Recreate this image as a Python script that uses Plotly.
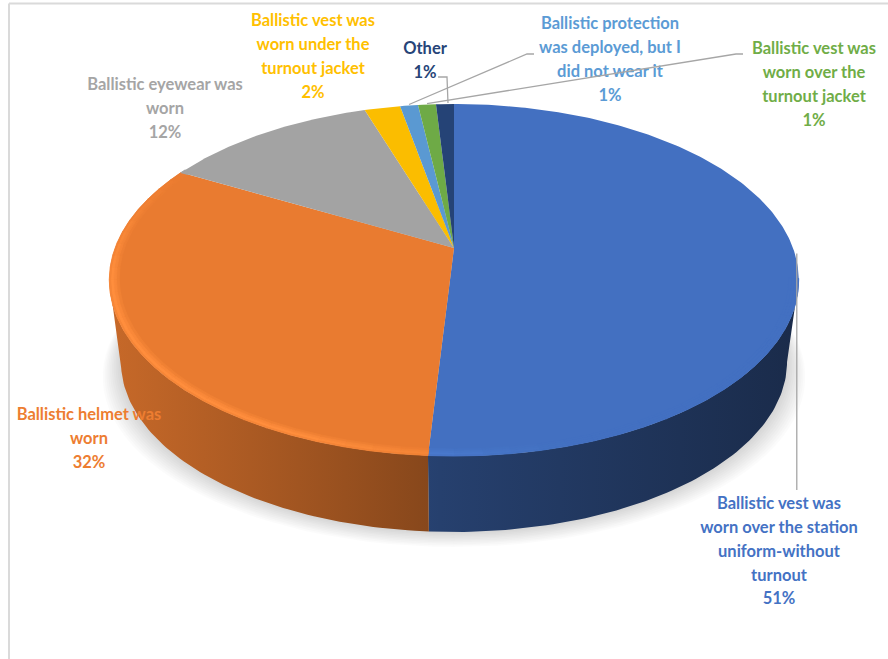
import math
import plotly.graph_objects as go

# Survey shares, in pie order (clockwise from twelve o'clock)
categories = [
    "Ballistic vest was worn over the station uniform-without turnout",
    "Ballistic helmet was worn",
    "Ballistic eyewear was worn",
    "Ballistic vest was worn under the turnout jacket",
    "Ballistic protection was deployed, but I did not wear it",
    "Ballistic vest was worn over the turnout jacket",
    "Other",
]
values = [51, 32, 12, 2, 1, 1, 1]
colors = ["#4472C4", "#ED7D31", "#A5A5A5", "#FFC000", "#5B9BD5", "#70AD47", "#264478"]
label_lines = [
    ["Ballistic vest was", "worn over the station", "uniform-without", "turnout"],
    ["Ballistic helmet was", "worn"],
    ["Ballistic eyewear was", "worn"],
    ["Ballistic vest was", "worn under the", "turnout jacket"],
    ["Ballistic protection", "was deployed, but I", "did not wear it"],
    ["Ballistic vest was", "worn over the", "turnout jacket"],
    ["Other"],
]
# Label block centre x and first-line y, one pair per category
label_x = [779, 89, 165, 313, 610, 814, 425]
label_y = [505, 416, 86, 22, 25, 50, 50]
LINE_STEP = 23.8
FONT_SIZE = 16.5

# Perspective disc: screen centre, radii and foreshortening
CX, APEX_Y = 454.0, 248.0
RX, RY, PERSP = 339.0, 170.2, 0.182
BASE_APEX_Y, BASE_SCALE = 331.0, 0.966


def rim(theta_deg, r=1.0, apex_y=APEX_Y, scale=1.0):
    t = math.radians(theta_deg)
    u, v = r * math.sin(t), r * math.cos(t)
    w = 1 + PERSP * v
    return CX + scale * RX * u / w, apex_y - scale * RY * v / w


def arc(a0, a1, r=1.0, apex_y=APEX_Y, scale=1.0, step=1.0):
    n = max(2, int(abs(a1 - a0) / step) + 1)
    return [rim(a0 + (a1 - a0) * i / (n - 1), r, apex_y, scale) for i in range(n)]


def silhouette_angle(lo, hi):
    # Rim angle whose wall edge is tangent to the top face: the widest wall line
    def outer_x(theta):
        xt, yt = rim(theta)
        xb, yb = rim(theta, 1, BASE_APEX_Y, BASE_SCALE)
        # Horizontal reach of the wall edge, sampled half way down the wall
        return abs((xt + xb) / 2 - CX)
    best, best_x = lo, -1.0
    theta = lo
    while theta <= hi:
        reach = outer_x(theta)
        if reach > best_x:
            best, best_x = theta, reach
        theta += 0.25
    return best


WALL_START = silhouette_angle(60.0, 130.0)
WALL_END = silhouette_angle(230.0, 300.0)


def rgb(hex_color):
    return tuple(int(hex_color[i:i + 2], 16) for i in (1, 3, 5))


def css(c):
    return "rgb(%d,%d,%d)" % tuple(max(0, min(255, round(x))) for x in c)


def poly(points, fill, line=None, **extra):
    xs = [p[0] for p in points] + [points[0][0]]
    ys = [p[1] for p in points] + [points[0][1]]
    return go.Scatter(
        x=xs, y=ys, mode="lines", fill="toself", fillcolor=fill,
        line=dict(color=line or fill, width=0.8 if line else 0),
        hoverinfo="skip", showlegend=False, **extra,
    )


total = sum(values)
bounds = [0.0]
for val in values:
    bounds.append(bounds[-1] + 360.0 * val / total)

fig = go.Figure()

# Soft drop shadow under the disc
for i in range(10, 0, -1):
    ring = [(CX + (x - CX) * (1 + i * 0.0055), y + i * 1.5)
            for x, y in arc(0, 360, 1, BASE_APEX_Y, BASE_SCALE, 3)]
    fig.add_trace(poly(ring, "rgba(0,0,0,0.017)"))

# Outer wall: light falls from the left, so each wall darkens toward the right
WALL_LEFT, WALL_MID, WALL_RIGHT = 109.0, 440.0, 800.0
WALL_SHADES = (0.84, 0.56, 0.38)
for k, hex_color in enumerate(colors):
    a0, a1 = max(bounds[k], WALL_START), min(bounds[k + 1], WALL_END)
    if a0 >= a1:
        continue
    base = rgb(hex_color)
    pos_mid = (WALL_MID - WALL_LEFT) / (WALL_RIGHT - WALL_LEFT)
    scale_stops = [
        [pos, css([c * s for c in base])]
        for pos, s in zip((0.0, pos_mid, 1.0), WALL_SHADES)
    ]
    outline = arc(a0, a1) + arc(a1, a0, 1, BASE_APEX_Y, BASE_SCALE)
    fig.add_trace(poly(
        outline, css([c * WALL_SHADES[1] for c in base]),
        fillgradient=dict(type="horizontal", start=WALL_LEFT, stop=WALL_RIGHT,
                          colorscale=scale_stops),
    ))

# Top face wedges
for k, hex_color in enumerate(colors):
    pts = [(CX, APEX_Y)] + arc(bounds[k], bounds[k + 1], step=0.75)
    fig.add_trace(poly(pts, css([c * 0.985 for c in rgb(hex_color)])))

# Rounded bevel highlight along the near edge of the top face
BEVEL = [(0.972, 0.980, 0.3), (0.980, 0.988, 0.7), (0.988, 0.996, 1.0), (0.996, 1.0, 0.6)]
SEG = 4.0
for k, hex_color in enumerate(colors):
    a0, a1 = max(bounds[k], 100.0), min(bounds[k + 1], 300.0)
    base = [c * 0.985 for c in rgb(hex_color)]
    bright = [min(255, c * 1.09 + 8) for c in base]
    a = a0
    while a < a1:
        b = min(a + SEG, a1)
        mid = (a + b) / 2
        strength = max(0.0, min(1.0, (560 - rim(mid)[0]) / 260))
        strength *= max(0.0, min(1.0, (300 - mid) / 40))
        for r0, r1, t in BEVEL:
            mix = [p + (q - p) * t * strength for p, q in zip(base, bright)]
            col = css(mix)
            fig.add_trace(poly(arc(a, b, r1, step=SEG) + arc(b, a, r0, step=SEG), col, col))
        a = b

# Category labels, one text row per line so the leading stays even
for k, lines in enumerate(label_lines):
    rows = lines + ["%d%%" % values[k]]
    fig.add_trace(go.Scatter(
        x=[label_x[k]] * len(rows),
        y=[label_y[k] + i * LINE_STEP for i in range(len(rows))],
        text=rows, mode="text", textposition="middle center",
        textfont=dict(family="Lato", size=FONT_SIZE, color=colors[k], weight=700),
        hoverinfo="skip", showlegend=False,
    ))


def leader(points):
    fig.add_trace(go.Scatter(
        x=[p[0] for p in points], y=[p[1] for p in points], mode="lines",
        line=dict(color="#A6A6A6", width=1.3),
        hoverinfo="skip", showlegend=False,
    ))


def slice_mid(k):
    return rim((bounds[k] + bounds[k + 1]) / 2)


# Leader lines run from each label to the middle of its slice
x0, y0 = slice_mid(0)
leader([(x0 + 2, y0), (x0 + 2, 490)])
x4, y4 = slice_mid(4)
leader([(534, 54), (527, 54), (x4, y4 - 1)])
x5, y5 = slice_mid(5)
leader([(743, 54), (736, 54), (x5, y5 - 1)])
x6, y6 = slice_mid(6)
leader([(438, 77), (447, 77), (x6 + 3, y6 - 1)])

fig.update_layout(
    width=888, height=659,
    margin=dict(l=0, r=0, t=0, b=0),
    paper_bgcolor="white", plot_bgcolor="white",
    xaxis=dict(range=[0, 888], visible=False, fixedrange=True),
    yaxis=dict(range=[659, 0], visible=False, fixedrange=True),
    shapes=[
        dict(type="line", xref="x", yref="y", x0=9, x1=888, y0=3.5, y1=3.5,
             line=dict(color="#DADADA", width=2)),
        dict(type="line", xref="x", yref="y", x0=9, x1=9, y0=3.5, y1=659,
             line=dict(color="#DADADA", width=2)),
    ],
)

fig.write_html("out.html")
